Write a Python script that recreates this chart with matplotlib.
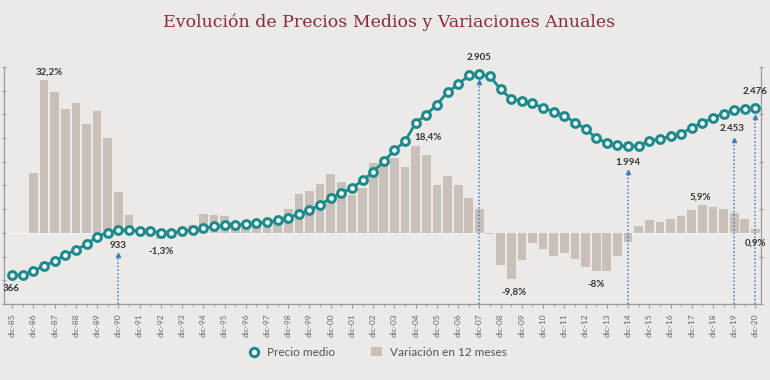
import numpy as np
import matplotlib
matplotlib.use("Agg")
from matplotlib import pyplot as plt
from matplotlib.lines import Line2D
from matplotlib.patches import Patch

# semiannual points, dic-85 .. dic-20
years = list(range(85, 100)) + list(range(0, 21))
tick_labels = ["dic-%02d" % y for y in years]

precio = [366, 370, 419, 482, 542, 622, 685, 757, 854, 905,
          933, 935, 930, 918, 905, 905, 918, 939, 956, 981,
          994, 1002, 1011, 1024, 1037, 1058, 1088, 1142, 1184, 1256,
          1341, 1405, 1468, 1565, 1671, 1806, 1946, 2060, 2293, 2398,
          2525, 2682, 2779, 2893, 2905, 2884, 2716, 2597, 2568, 2538,
          2483, 2435, 2386, 2297, 2217, 2103, 2039, 2008, 1994, 2005,
          2060, 2090, 2123, 2157, 2230, 2293, 2356, 2411, 2453, 2470, 2476]

variacion = [np.nan, np.nan, 12.7, 32.2, 29.7, 26.1, 27.5, 23.0, 25.8, 20.0,
             8.7, 3.7, 0.3, -0.4, -1.3, -0.6, 0.4, 1.6, 3.9, 3.8,
             3.5, 2.0, 1.5, 1.6, 1.2, 2.8, 5.0, 8.2, 8.9, 10.3,
             12.4, 10.8, 8.0, 9.4, 14.7, 14.1, 15.8, 13.8, 18.4, 16.5,
             10.1, 11.9, 10.0, 7.4, 5.0, -0.3, -6.7, -9.8, -5.8, -2.1,
             -3.3, -4.9, -4.2, -5.6, -7.1, -8.0, -8.0, -4.9, -2.0, 1.4,
             2.7, 2.3, 3.0, 3.6, 4.8, 5.9, 5.4, 5.0, 4.3, 2.9, 0.9]

# labelled points: (index, text)
etiquetas_precio = [(0, "366"), (10, "933"), (44, "2.905"), (58, "1.994"),
                    (68, "2.453"), (70, "2.476")]
etiquetas_var = [(3, "32,2%"), (14, "-1,3%"), (38, "18,4%"), (47, "-9,8%"),
                 (55, "-8%"), (65, "5,9%"), (70, "0,9%")]
flechas = [10, 44, 58, 68, 70]

BG = "#ebeae8"
BAR = "#c9c1b9"
TEAL = "#1f8a8c"
DOT = "#3f7fc0"
TXT = "#333333"

plt.rcParams['font.family'] = ['Lato', 'DejaVu Sans']

x = np.arange(len(precio))

fig = plt.figure(figsize=(7.7, 3.8), dpi=100, facecolor=BG)
ax = fig.add_axes([0.0055, 0.2, 0.9825, 0.6237])
ax.set_facecolor(BG)
ax2 = ax.twinx()

ax.bar(x, variacion, width=0.82, color=BAR, zorder=1)
ax.axhline(0, color="#f5f5f5", lw=0.6, zorder=0)
ax.set_ylim(-15, 35)
ax.set_xlim(-0.75, 70.5)

ax2.plot(x, precio, color=TEAL, lw=2, marker='o', ms=5.6, mfc='white',
         mec=TEAL, mew=2.2, zorder=5)
ax2.set_ylim(0, 3000)

# dotted pointers
px_to_units = 3000 / (0.6237 * 380)
gaps = {10: 25, 44: 8, 58: 26, 68: 30, 70: 9}
for i in flechas:
    top = precio[i] - gaps[i] * px_to_units
    ax2.plot([i, i], [0, top], color=DOT, lw=1.1, ls=(0, (1, 1.4)), zorder=4)
    ax2.plot(i, top, marker='^', ms=3, color=DOT, zorder=4)

# labels
off_precio = {0: (-0.7, -9.4), 10: (0, -11), 44: (0, 12), 58: (0, -11.5),
              68: (-1.4, -13), 70: (0, 12)}
for i, t in etiquetas_precio:
    ax2.annotate(t, (i, precio[i]), xytext=off_precio[i],
                 textcoords='offset points', ha='center', va='center',
                 fontsize=7, fontweight='bold', color=TXT, zorder=6)

off_var = {3: (3.5, 6), 14: (0, -9), 38: (8.6, 5.8), 47: (1.8, -9.4),
           55: (0, -9.7), 65: (-1.4, 5.7), 70: (0, -10.5)}
for i, t in etiquetas_var:
    ax2.annotate(t, (i, variacion[i]), xytext=off_var[i],
                 textcoords='offset points', ha='center', va='center',
                 fontsize=7, fontweight='bold', color=TXT, zorder=6,
                 xycoords=ax.transData)

# axes styling
for a in (ax, ax2):
    a.spines['top'].set_visible(False)
    for s in ('left', 'right', 'bottom'):
        a.spines[s].set_color('#9a9a9a')
        a.spines[s].set_linewidth(0.8)

ax.set_yticks(np.arange(-15, 36, 5))
ax.tick_params(axis='y', length=3, direction='inout', color='#9a9a9a',
               labelleft=False)
ax2.set_yticks(np.arange(0, 3001, 600))
ax2.tick_params(axis='y', length=3, direction='inout', color='#9a9a9a',
                labelright=False)

ax.set_xticks(x[::2])
ax.set_xticklabels(tick_labels, rotation=90, fontsize=6, color='#666666')
ax.set_xticks(x, minor=True)
ax.tick_params(axis='x', which='major', length=3, color='#9a9a9a', pad=4)
ax.tick_params(axis='x', which='minor', length=2, color='#9a9a9a')

fig.text(0.505, 0.942, "Evolución de Precios Medios y Variaciones Anuales",
         ha='center', va='center', fontsize=12.5, color='#8a2a3e',
         family='DejaVu Serif')

handles = [Line2D([], [], color=TEAL, marker='o', ls='', ms=6, mfc='white',
                  mec=TEAL, mew=2.2),
           Patch(facecolor=BAR, edgecolor='none')]
fig.legend(handles, ["Precio medio", "Variación en 12 meses"], ncol=2,
           loc='center', bbox_to_anchor=(0.49, 0.073), frameon=False,
           fontsize=8.5, labelcolor='#555555', handlelength=1.0,
           handletextpad=0.6, columnspacing=3.0)

fig.savefig("out.png", dpi=100, facecolor=BG)
